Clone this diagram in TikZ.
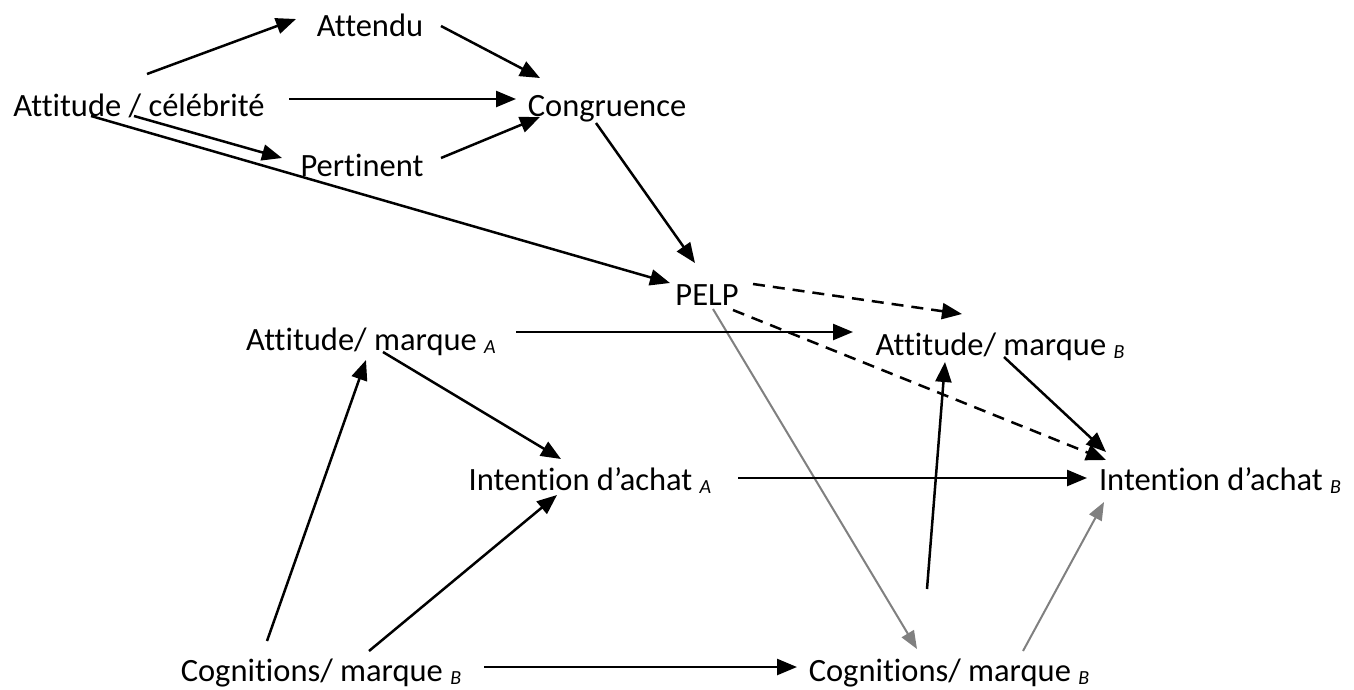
\documentclass[tikz,border=0pt]{standalone}
\usepackage{fontspec}
\setmainfont{Carlito}[Ligatures={NoCommon}]
\usetikzlibrary{arrows.meta}
\newcommand{\subl}[1]{\raisebox{-3pt}{\fontsize{20}{20}\selectfont\itshape #1}}
\begin{document}
\begin{tikzpicture}[x=1pt,y=-1pt,
  lbl/.style={inner sep=0pt,anchor=base,font=\fontsize{32.5}{36}\selectfont},
  arr/.style={line width=2.5pt,-{Triangle[length=20pt,width=16pt]}},
  garr/.style={line width=2pt,draw={rgb,255:red,128;green,128;blue,128},-{Triangle[length=18pt,width=14pt]}},
  darr/.style={arr,dash pattern=on 12pt off 8pt}]
\useasboundingbox (0,0) rectangle (1354,689);
\node[lbl] (att) at (370,36) {Attendu};
\node[lbl] (cel) at (139,116) {Attitude / célébrité};
\node[lbl] (con) at (607,116) {Congruence};
\node[lbl] (per) at (362,176) {Pertinent};
\node[lbl] (pelp) at (707,305) {PELP};
\node[lbl] (amA) at (371,350) {Attitude/ marque \subl{A}};
\node[lbl] (amB) at (1000,355) {Attitude/ marque \subl{B}};
\node[lbl] (iaA) at (590,490) {Intention d’achat \subl{A}};
\node[lbl] (iaB) at (1220,490) {Intention d’achat \subl{B}};
\node[lbl] (cgL) at (321,681) {Cognitions/ marque \subl{B}};
\node[lbl] (cgR) at (949,681) {Cognitions/ marque \subl{B}};
\draw[arr] ([shift={(8,-42)}]cel.base) -- ([shift={(-74,-17)}]att.base);
\draw[arr] ([shift={(71,-10)}]att.base) -- ([shift={(-67,-38)}]con.base);
\draw[arr] ([shift={(150,-17)}]cel.base) -- ([shift={(-91,-17)}]con.base);
\draw[arr] ([shift={(-5,0)}]cel.base) -- ([shift={(-80,-18)}]per.base);
\draw[arr] ([shift={(79,-18)}]per.base) -- ([shift={(-67,1)}]con.base);
\draw[arr] ([shift={(-48,0)}]cel.base) -- ([shift={(-37,-22)}]pelp.base);
\draw[arr] ([shift={(-11,7)}]con.base) -- ([shift={(-12,-42)}]pelp.base);
\draw[darr] ([shift={(46,-21)}]pelp.base) -- ([shift={(-38,-41)}]amB.base);
\draw[darr] ([shift={(26,5)}]pelp.base) -- ([shift={(-114,-30)}]iaB.base);
\draw[garr] ([shift={(6,4)}]pelp.base) -- ([shift={(-32,-32)}]cgR.base);
\draw[arr] ([shift={(145,-18)}]amA.base) -- ([shift={(-147,-23)}]amB.base);
\draw[arr] ([shift={(12,2)}]amA.base) -- ([shift={(-29,-31)}]iaA.base);
\draw[arr] ([shift={(-54,-40)}]cgL.base) -- ([shift={(-5,10)}]amA.base);
\draw[arr] ([shift={(48,-30)}]cgL.base) -- ([shift={(-33,5)}]iaA.base);
\draw[arr] ([shift={(148,-12)}]iaA.base) -- ([shift={(-133,-12)}]iaB.base);
\draw[arr] ([shift={(163,-14)}]cgL.base) -- ([shift={(-152,-14)}]cgR.base);
\draw[arr] ([shift={(-22,-92)}]cgR.base) -- ([shift={(-55,7)}]amB.base);
\draw[garr] ([shift={(74,-30)}]cgR.base) -- ([shift={(-116,12)}]iaB.base);
\draw[arr] ([shift={(4,2)}]amB.base) -- ([shift={(-114,-38)}]iaB.base);
\end{tikzpicture}
\end{document}
